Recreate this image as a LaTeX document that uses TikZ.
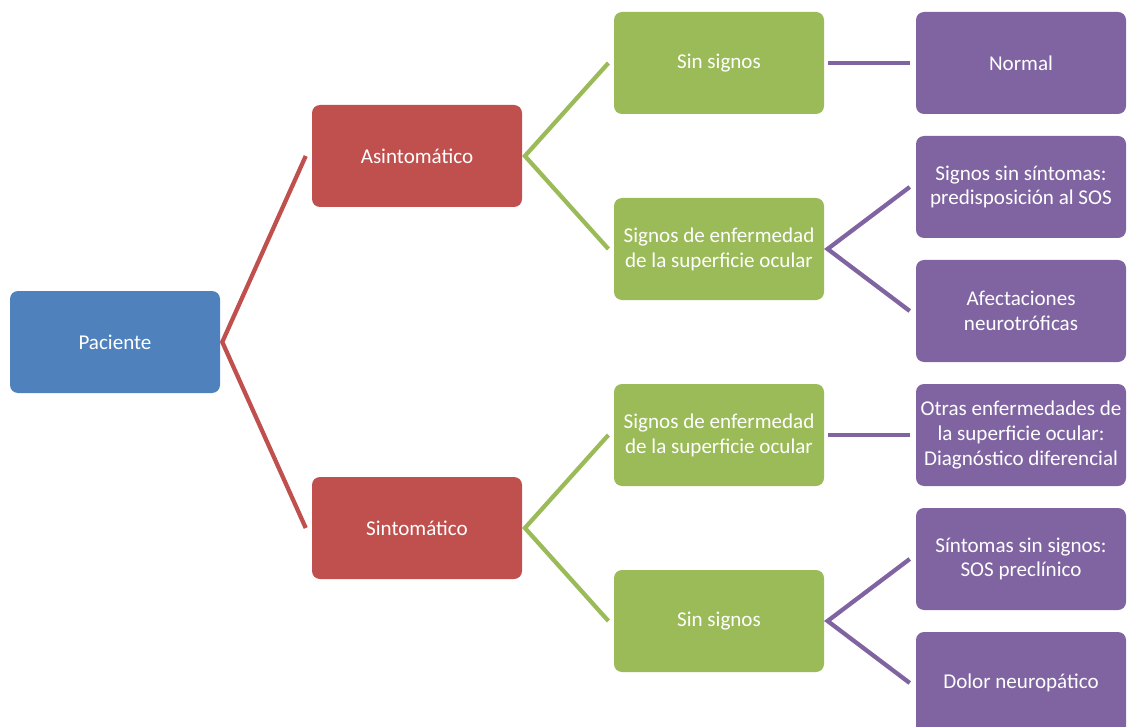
\documentclass[tikz,border=0pt]{standalone}
\usepackage{fontspec}
\setmainfont{Carlito}
\definecolor{cblue}{HTML}{4F81BD}
\definecolor{cred}{HTML}{C0504D}
\definecolor{cgreen}{HTML}{9BBB59}
\definecolor{cpurple}{HTML}{8064A2}
\begin{document}
\begin{tikzpicture}[x=0.75pt,y=-0.75pt,
  box/.style={rectangle, rounded corners=6pt, minimum width=157.5pt, minimum height=76.5pt,
    inner sep=0pt, align=center, text=white, font=\fontsize{15.8}{18.6}\selectfont},
  bluebox/.style={box, fill=cblue},
  redbox/.style={box, fill=cred},
  greenbox/.style={box, fill=cgreen},
  purplebox/.style={box, fill=cpurple},
  conn/.style={line width=3.2pt, line join=miter},
  redconn/.style={conn, draw=cred},
  greenconn/.style={conn, draw=cgreen},
  purpleconn/.style={conn, draw=cpurple}]
\useasboundingbox (0,0) rectangle (1131,727);
\begin{scope}
\clip (0,0) rectangle (1131,727);
\node[bluebox] (pac) at (115,342) {Paciente};
\node[redbox] (asin) at (417,156) {Asintomático};
\node[redbox] (sint) at (417,528) {Sintomático};
\node[greenbox] (sinA) at (719,63) {Sin signos};
\node[greenbox] (sigA) at (719,249) {Signos de enfermedad\\de la superficie ocular};
\node[greenbox] (sigB) at (719,435) {Signos de enfermedad\\de la superficie ocular};
\node[greenbox] (sinB) at (719,621) {Sin signos};
\node[purplebox] (norm) at (1021,63) {Normal};
\node[purplebox] (pred) at (1021,187) {Signos sin síntomas:\\predisposición al SOS};
\node[purplebox] (afec) at (1021,311) {Afectaciones\\neurotróficas};
\node[purplebox] (otra) at (1021,435) {Otras enfermedades de\\la superficie ocular:\\Diagnóstico diferencial};
\node[purplebox] (prec) at (1021,559) {Síntomas sin signos:\\SOS preclínico};
\node[purplebox] (dolo) at (1021,683) {Dolor neuropático};

\draw[redconn] ([xshift=-4.5pt]asin.west) -- ([xshift=1.5pt]pac.east) -- ([xshift=-4.5pt]sint.west);
\draw[greenconn] ([xshift=-4pt]sinA.west) -- ([xshift=2pt]asin.east) -- ([xshift=-4pt]sigA.west);
\draw[greenconn] ([xshift=-4pt]sigB.west) -- ([xshift=2pt]sint.east) -- ([xshift=-4pt]sinB.west);
\draw[purpleconn] ([xshift=3pt]sinA.east) -- ([xshift=-4.5pt]norm.west);
\draw[purpleconn] ([xshift=-4.5pt]pred.west) -- ([xshift=2.5pt]sigA.east) -- ([xshift=-4.5pt]afec.west);
\draw[purpleconn] ([xshift=3pt]sigB.east) -- ([xshift=-4.5pt]otra.west);
\draw[purpleconn] ([xshift=-4.5pt]prec.west) -- ([xshift=2.5pt]sinB.east) -- ([xshift=-4.5pt]dolo.west);
\end{scope}
\end{tikzpicture}
\end{document}
